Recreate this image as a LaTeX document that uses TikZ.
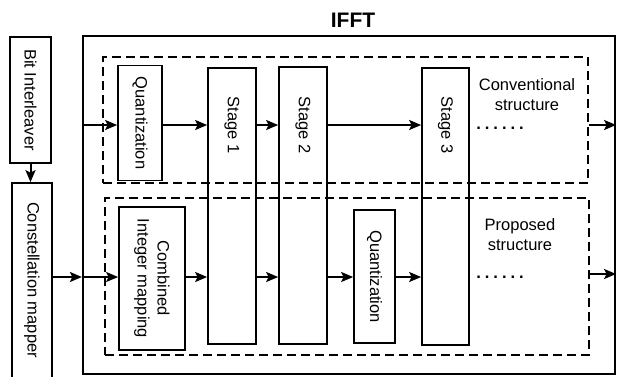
\documentclass[tikz,border=0pt]{standalone}
\usepackage{fontspec}
\setmainfont{Liberation Sans}
\usetikzlibrary{arrows.meta}
\tikzset{>={Stealth[length=12pt,width=10pt,inset=2.5pt]}}
\tikzset{
  blk/.style={draw, line width=1.7pt, inner sep=0pt},
  grp/.style={draw, line width=2pt, dash pattern=on 9pt off 5pt, inner sep=0pt},
  vtxt/.style={rotate=-90, align=center, font=\fontsize{16.5}{20}\selectfont},
  htxt/.style={align=center, font=\fontsize{16.5}{20}\selectfont},
  flow/.style={->, line width=2pt},
}

\begin{document}
\begin{tikzpicture}[x=1pt,y=-1pt]
\useasboundingbox (0,0) rectangle (619,376);
\clip (0,0) rectangle (619,376);
\coordinate (r1) at (0,125);
\coordinate (r2) at (0,277);
\coordinate (r3) at (0,274);

% blocks before the IFFT
\node[blk, minimum width=41, minimum height=126] (bi) at (30.5,100) {};
\node[vtxt] (bit) at (bi) {Bit Interleaver};
\node[blk, minimum width=40, minimum height=200] (cm) at (32,283) {};
\node[vtxt] (cmt) at (32,280) {Constellation mapper};

% IFFT frame and the two structures
\node[draw, line width=2.2pt, minimum width=532, minimum height=338] (ifft) at (349,205) {};
\node[font=\bfseries\fontsize{21}{24}\selectfont] (ifftt) at (353,20) {IFFT};
\node[grp, minimum width=485, minimum height=126] (conv) at (345.5,120) {};
\node[grp, minimum width=484, minimum height=157] (prop) at (347,276.5) {};

\node[blk, minimum width=44, minimum height=115] (q1) at (140,123) {};
\node[vtxt] (q1t) at (q1) {Quantization};
\node[blk, minimum width=66, minimum height=143] (cim) at (152,278.5) {};
\node[vtxt] (cimt) at (cim) {Combined\\Integer mapping};
\node[blk, minimum width=41, minimum height=133] (q2) at (374.5,276.5) {};
\node[vtxt] (q2t) at (q2) {Quantization};

\node[blk, minimum width=48, minimum height=276] (s1) at (232,206) {};
\node[vtxt] (s1t) at (s1 |- r1) {Stage 1};
\node[blk, minimum width=48, minimum height=277] (s2) at (303,205.5) {};
\node[vtxt] (s2t) at (s2 |- r1) {Stage 2};
\node[blk, minimum width=47, minimum height=277] (s3) at (445.5,206.5) {};
\node[vtxt] (s3t) at (s3 |- r1) {Stage 3};

\node[htxt] (convt) at (527,95) {Conventional\\structure};
\node[htxt] (propt) at (520,235) {Proposed\\structure};
\node[htxt] (dots1) at (500,128) {\textbf{.\hspace{4pt}.\hspace{4pt}.\hspace{4pt}.\hspace{4pt}.\hspace{4pt}.}};
\node[htxt] (dots2) at (500,277) {\textbf{.\hspace{4pt}.\hspace{4pt}.\hspace{4pt}.\hspace{4pt}.\hspace{4pt}.}};

% signal flow
\draw[flow] (bi.south) -- (bi.south |- cm.north);
\draw[flow] (ifft.west |- r1) -- (q1.west |- r1);
\draw[flow] (q1.east |- r1) -- (s1.west |- r1);
\draw[flow] (s1.east |- r1) -- (s2.west |- r1);
\draw[flow] (s2.east |- r1) -- (s3.west |- r1);
\draw[flow] (conv.east |- r1) -- (ifft.east |- r1);

\draw[flow] (cm.east |- r2) -- (ifft.west |- r2);
\draw[flow] (ifft.west |- r2) -- (cim.west |- r2);
\draw[flow] (cim.east |- r2) -- (s1.west |- r2);
\draw[flow] (s1.east |- r2) -- (s2.west |- r2);
\draw[flow] (s2.east |- r2) -- (q2.west |- r2);
\draw[flow] (q2.east |- r2) -- (s3.west |- r2);
\draw[flow] (prop.east |- r3) -- (ifft.east |- r3);
\end{tikzpicture}
\end{document}
